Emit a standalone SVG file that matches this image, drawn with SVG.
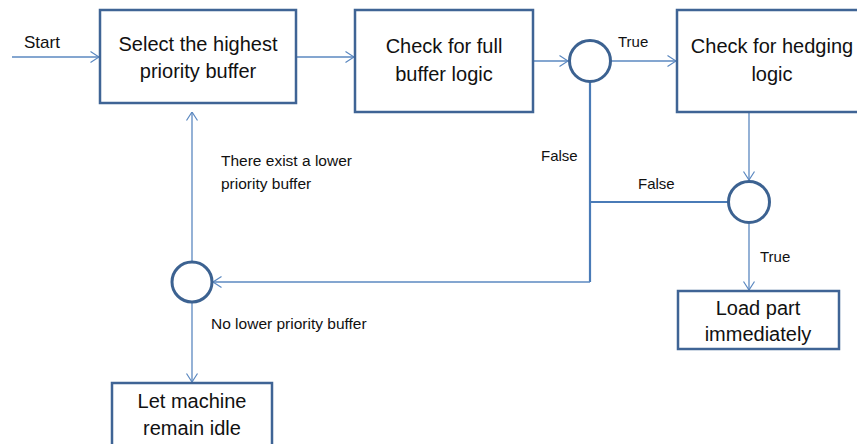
<svg xmlns="http://www.w3.org/2000/svg" width="857" height="444" viewBox="0 0 857 444">
  <style>
    .box { fill: #ffffff; stroke: #3F6495; stroke-width: 2.5; }
    .dec { fill: #ffffff; stroke: #3C6291; stroke-width: 3; }
    .big { font-family: "Liberation Sans", Arial, sans-serif; font-size: 20px; fill: #111111; text-anchor: middle; }
    .lbl { font-family: "Liberation Sans", Arial, sans-serif; font-size: 15px; fill: #111111; }
    .sml { font-family: "Liberation Sans", Arial, sans-serif; font-size: 15.5px; fill: #111111; }
    .flow { fill: none; stroke: #5B88C0; stroke-width: 1.3; }
    .trunk { fill: none; stroke: #4A7BB7; stroke-width: 2.2; }
  </style>
  <defs>
    <marker id="arrow" viewBox="0 0 10 12" refX="9.5" refY="6" markerWidth="10" markerHeight="12" markerUnits="userSpaceOnUse" orient="auto">
      <path d="M1,0.5 L9.5,6 L1,11.5" fill="none" stroke="#5B88C0" stroke-width="1.2"/>
    </marker>
  </defs>

  <rect width="857" height="444" fill="#ffffff"/>

  <!-- connectors -->
  <g id="connectors">
    <line class="flow" x1="12" y1="57" x2="99" y2="57" marker-end="url(#arrow)"/>
    <line class="flow" x1="297" y1="57" x2="354" y2="57" marker-end="url(#arrow)"/>
    <line class="flow" x1="534" y1="61" x2="568" y2="61" marker-end="url(#arrow)"/>
    <line class="flow" x1="611" y1="61" x2="676" y2="61" marker-end="url(#arrow)"/>
    <line class="flow" x1="749" y1="113" x2="749" y2="180" marker-end="url(#arrow)"/>
    <line class="flow" x1="749" y1="224" x2="749" y2="290" marker-end="url(#arrow)"/>
    <polyline class="trunk" points="590,82 590,282"/>
    <line class="trunk" x1="590" y1="202" x2="728" y2="202"/>
    <line class="flow" x1="590" y1="282" x2="213" y2="282" marker-end="url(#arrow)"/>
    <line class="flow" x1="192" y1="261" x2="192" y2="112" marker-end="url(#arrow)"/>
    <line class="flow" x1="192" y1="303" x2="192" y2="382" marker-end="url(#arrow)"/>
    <text class="lbl" x="24" y="48" style="font-size:17px">Start</text>
    <text class="lbl" x="618" y="47">True</text>
    <text class="lbl" x="541" y="161">False</text>
    <text class="lbl" x="638" y="189">False</text>
    <text class="lbl" x="760" y="262">True</text>
    <text class="sml" x="221" y="166">There exist a lower</text>
    <text class="sml" x="221" y="189">priority buffer</text>
    <text class="sml" x="211" y="329">No lower priority buffer</text>
  </g>

  <g id="select-highest">
    <rect class="box" x="100" y="10" width="196" height="93"/>
    <text class="big" x="198" y="51">Select the highest</text>
    <text class="big" x="198" y="78">priority buffer</text>
  </g>

  <g id="check-full">
    <rect class="box" x="355" y="10" width="178" height="102"/>
    <text class="big" x="444" y="53">Check for full</text>
    <text class="big" x="444" y="81">buffer logic</text>
  </g>

  <g id="decision-full">
    <circle class="dec" cx="590" cy="61" r="20.5"/>
  </g>

  <g id="check-hedging">
    <rect class="box" x="677" y="10" width="190" height="102"/>
    <text class="big" x="772" y="53">Check for hedging</text>
    <text class="big" x="772" y="81">logic</text>
  </g>

  <g id="decision-hedging">
    <circle class="dec" cx="749" cy="202" r="20.5"/>
  </g>

  <g id="load-part">
    <rect class="box" x="678" y="291" width="161" height="58"/>
    <text class="big" x="758" y="315">Load part</text>
    <text class="big" x="758" y="341">immediately</text>
  </g>

  <g id="decision-lower">
    <circle class="dec" cx="192" cy="282" r="20"/>
  </g>

  <g id="remain-idle">
    <rect class="box" x="112" y="383" width="160" height="70"/>
    <text class="big" x="192" y="408">Let machine</text>
    <text class="big" x="192" y="435">remain idle</text>
  </g>
</svg>
